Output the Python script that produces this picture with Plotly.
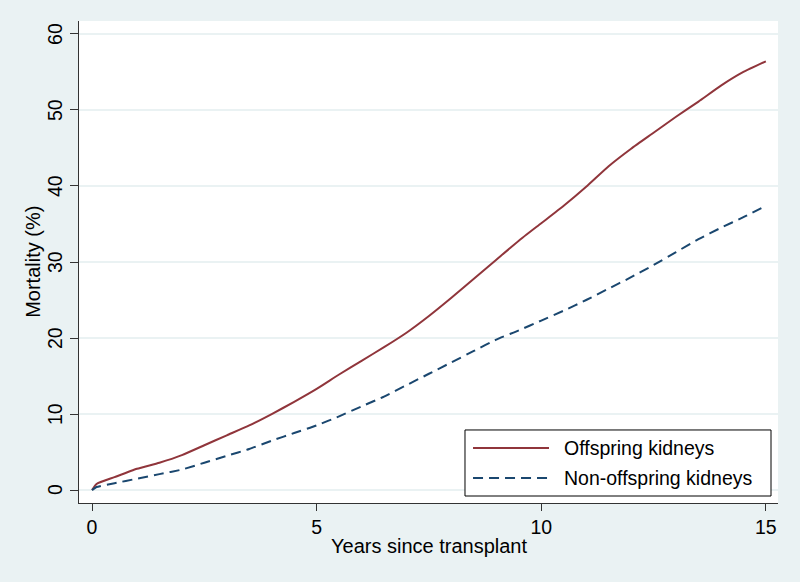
import plotly.graph_objects as go

years_off = [0, 0.1, 0.5, 1.0, 1.5, 2.0, 2.5, 3.0, 3.5, 4.0, 4.5, 5.0, 5.5, 6.0, 6.5, 7.0,
             7.5, 8.0, 8.5, 9.0, 9.5, 10.0, 10.5, 11.0, 11.5, 12.0, 12.5, 13.0, 13.5,
             14.0, 14.5, 15.0]
mort_off = [0, 0.8, 1.7, 2.8, 3.6, 4.6, 5.9, 7.2, 8.5, 10.0, 11.6, 13.3, 15.2, 17.0, 18.8,
            20.7, 22.9, 25.3, 27.8, 30.3, 32.8, 35.1, 37.4, 39.9, 42.6, 44.9, 47.0, 49.1,
            51.1, 53.2, 55.0, 56.4]

years_non = [0, 0.1, 0.5, 1.0, 1.5, 2.0, 2.5, 3.0, 3.5, 4.0, 4.5, 5.0, 5.5, 6.0, 6.5, 7.0,
             7.5, 8.0, 8.5, 9.0, 9.5, 10.0, 10.5, 11.0, 11.5, 12.0, 12.5, 13.0, 13.5,
             14.0, 14.5, 14.9]
mort_non = [0, 0.4, 0.9, 1.5, 2.1, 2.7, 3.6, 4.5, 5.4, 6.5, 7.5, 8.5, 9.7, 11.0, 12.3,
            13.8, 15.3, 16.8, 18.3, 19.8, 21.0, 22.3, 23.6, 25.0, 26.5, 28.0, 29.6, 31.3,
            33.0, 34.5, 35.9, 37.1]

series_names = ["Offspring kidneys", "Non-offspring kidneys"]
x_ticks = [0, 5, 10, 15]
y_ticks = [0, 10, 20, 30, 40, 50, 60]

FONT = "Liberation Sans, Arial, sans-serif"
BG = "#eaf2f3"
RED = "#90353b"
BLUE = "#1a476f"
DASH = "10px,6px"

fig = go.Figure()
fig.add_trace(go.Scatter(x=years_off, y=mort_off, mode="lines", name=series_names[0],
                         line=dict(color=RED, width=2, shape="spline", smoothing=0.5)))
fig.add_trace(go.Scatter(x=years_non, y=mort_non, mode="lines", name=series_names[1],
                         line=dict(color=BLUE, width=2, dash=DASH, shape="spline",
                                   smoothing=0.5)))

fig.update_layout(
    width=800, height=582,
    paper_bgcolor=BG, plot_bgcolor="white",
    margin=dict(l=79, r=22, t=21, b=79),
    font=dict(family=FONT, size=19.5, color="#000"),
    showlegend=False,
)
fig.update_xaxes(range=[-0.29, 15.27], tickvals=x_ticks, ticks="outside", ticklen=7,
                 tickcolor="#333", showline=True, linecolor="#333", linewidth=1,
                 showgrid=False, zeroline=False, automargin=False,
                 tickfont=dict(size=19.5))
fig.update_yaxes(range=[-1.7, 61.7], tickvals=y_ticks, ticks="outside", ticklen=8,
                 tickcolor="#333", showline=True, linecolor="#333", linewidth=1,
                 showgrid=True, gridcolor=BG, gridwidth=1.5, zeroline=False,
                 showticklabels=False, automargin=False)

# rotated y tick labels (Stata style)
for v in y_ticks:
    fig.add_annotation(x=-0.0343, xref="paper", y=v, yref="y", text=str(v),
                       textangle=-90, showarrow=False, xanchor="center", yanchor="middle",
                       font=dict(size=19.5))
# axis titles
fig.add_annotation(x=-0.066, xref="paper", y=0.5, yref="paper", text="Mortality (%)",
                   textangle=-90, showarrow=False, xanchor="center", yanchor="middle",
                   font=dict(size=20))
fig.add_annotation(x=0.5, xref="paper", y=-0.0892, yref="paper",
                   text="Years since transplant", showarrow=False,
                   xanchor="center", yanchor="middle", font=dict(size=20))

# legend box
fig.add_shape(type="rect", xref="paper", yref="paper", x0=0.5522, x1=0.99,
              y0=0.0145, y1=0.1515, line=dict(color="#000", width=1),
              fillcolor="white", layer="above")
leg_y = [0.1141, 0.0519]
leg_col = [RED, BLUE]
leg_dash = ["solid", DASH]
for name, yy, c, d in zip(series_names, leg_y, leg_col, leg_dash):
    fig.add_shape(type="line", xref="paper", yref="paper", x0=0.5637, x1=0.6724,
                  y0=yy, y1=yy, line=dict(color=c, width=2, dash=d), layer="above")
    fig.add_annotation(x=0.691, xref="paper", y=yy, yref="paper", text=name,
                       showarrow=False, xanchor="left", yanchor="middle",
                       font=dict(size=19.5))

fig.write_html("out.html",
               config={"displayModeBar": False},
               post_script="document.body.style.margin='0';"
                           "document.body.style.background='#eaf2f3';"
                           "document.body.style.overflow='hidden';")
